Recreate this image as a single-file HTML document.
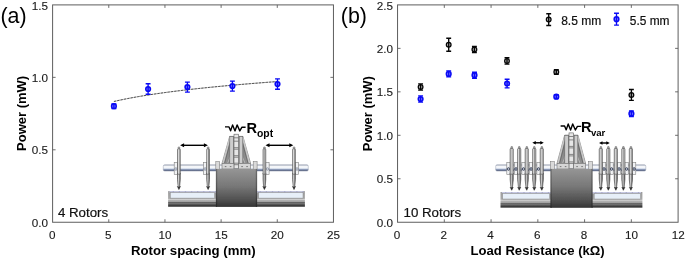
<!DOCTYPE html>
<html lang="en"><head><meta charset="utf-8"><title>Power vs rotor spacing and load resistance</title>
<style>html,body{margin:0;padding:0;background:#fff}body{width:685px;height:259px;overflow:hidden}svg{display:block}</style></head><body>
<svg width="685" height="259" viewBox="0 0 685 259" font-family='"Liberation Sans", Arial, sans-serif'>
<defs>
<linearGradient id="shaft" x1="0" y1="0" x2="0" y2="1"><stop offset="0" stop-color="#98a1b3"/><stop offset="0.15" stop-color="#dde1e9"/><stop offset="0.32" stop-color="#ffffff"/><stop offset="0.55" stop-color="#e6ecf5"/><stop offset="0.7" stop-color="#a9b6d0"/><stop offset="0.85" stop-color="#46547a"/><stop offset="1" stop-color="#8e96a8"/></linearGradient>
<linearGradient id="tray" x1="0" y1="0" x2="0" y2="1"><stop offset="0" stop-color="#9c9c9c"/><stop offset="0.47" stop-color="#a8a8a8"/><stop offset="0.52" stop-color="#dcdcdc"/><stop offset="0.57" stop-color="#b4b4b4"/><stop offset="0.68" stop-color="#a2a2a2"/><stop offset="0.72" stop-color="#5c5c5c"/><stop offset="0.77" stop-color="#7a7a7a"/><stop offset="1" stop-color="#1e1e1e"/></linearGradient>
<linearGradient id="block" x1="0" y1="0" x2="0" y2="1"><stop offset="0" stop-color="#959595"/><stop offset="0.45" stop-color="#787878"/><stop offset="0.8" stop-color="#525252"/><stop offset="1" stop-color="#333"/></linearGradient>
<linearGradient id="blockh" x1="0" y1="0" x2="1" y2="0"><stop offset="0" stop-color="#000" stop-opacity="0.4"/><stop offset="0.045" stop-color="#000" stop-opacity="0"/><stop offset="0.955" stop-color="#000" stop-opacity="0"/><stop offset="1" stop-color="#000" stop-opacity="0.4"/></linearGradient>
<linearGradient id="tower" x1="0" y1="0" x2="1" y2="0"><stop offset="0" stop-color="#9c9c9c"/><stop offset="0.3" stop-color="#858585"/><stop offset="0.5" stop-color="#a8a8a8"/><stop offset="0.7" stop-color="#858585"/><stop offset="1" stop-color="#9c9c9c"/></linearGradient>
<linearGradient id="rodlo" x1="0" y1="0" x2="1" y2="0"><stop offset="0" stop-color="#6a6a6a"/><stop offset="0.35" stop-color="#d6d6d6"/><stop offset="0.55" stop-color="#a6a6a6"/><stop offset="1" stop-color="#4a4a4a"/></linearGradient>
<linearGradient id="rod" x1="0" y1="0" x2="1" y2="0"><stop offset="0" stop-color="#a0a0a0"/><stop offset="0.3" stop-color="#e6e6e6"/><stop offset="0.5" stop-color="#b8b8b8"/><stop offset="0.62" stop-color="#808080"/><stop offset="0.78" stop-color="#cecece"/><stop offset="1" stop-color="#949494"/></linearGradient>
<filter id="soft" x="-5%" y="-5%" width="110%" height="110%"><feGaussianBlur stdDeviation="0.35"/></filter>
</defs>
<rect width="685" height="259" fill="#fff"/>
<rect x="52.6" y="4.9" width="280.85" height="217.35" fill="none" stroke="#5e5e5e" stroke-width="1.0"/>
<text x="52.15" y="238.5" text-anchor="middle" font-size="11.7" fill="#1a1a1a" stroke="#1a1a1a" stroke-width="0.12">0</text>
<text x="108.32" y="238.5" text-anchor="middle" font-size="11.7" fill="#1a1a1a" stroke="#1a1a1a" stroke-width="0.12">5</text>
<text x="164.99" y="238.5" text-anchor="middle" font-size="11.7" fill="#1a1a1a" stroke="#1a1a1a" stroke-width="0.12">10</text>
<text x="221.16" y="238.5" text-anchor="middle" font-size="11.7" fill="#1a1a1a" stroke="#1a1a1a" stroke-width="0.12">15</text>
<text x="277.33" y="238.5" text-anchor="middle" font-size="11.7" fill="#1a1a1a" stroke="#1a1a1a" stroke-width="0.12">20</text>
<text x="333.50" y="238.5" text-anchor="middle" font-size="11.7" fill="#1a1a1a" stroke="#1a1a1a" stroke-width="0.12">25</text>
<text x="48.00" y="226.75" text-anchor="end" font-size="11.7" fill="#1a1a1a" stroke="#1a1a1a" stroke-width="0.12">0.0</text>
<text x="48.00" y="154.30" text-anchor="end" font-size="11.7" fill="#1a1a1a" stroke="#1a1a1a" stroke-width="0.12">0.5</text>
<text x="48.00" y="81.85" text-anchor="end" font-size="11.7" fill="#1a1a1a" stroke="#1a1a1a" stroke-width="0.12">1.0</text>
<text x="48.00" y="9.90" text-anchor="end" font-size="11.7" fill="#1a1a1a" stroke="#1a1a1a" stroke-width="0.12">1.5</text>
<path d="M108.77 222.25v-3 M108.77 4.9v3 M164.94 222.25v-3 M164.94 4.9v3 M221.11 222.25v-3 M221.11 4.9v3 M277.28 222.25v-3 M277.28 4.9v3 M52.6 149.80h3 M333.45 149.80h-3 M52.6 77.35h3 M333.45 77.35h-3 " stroke="#5e5e5e" stroke-width="0.9" fill="none"/>
<text x="0.5" y="22.9" font-size="21.4" fill="#000">(a)</text>
<text transform="translate(26.0 113.4) rotate(-90)" text-anchor="middle" font-size="13" font-weight="bold" fill="#000">Power (mW)</text>
<text x="193.3" y="255.3" text-anchor="middle" font-size="13.2" font-weight="bold" fill="#000">Rotor spacing (mm)</text>
<text x="57.9" y="216.8" font-size="13.3" fill="#111" stroke="#111" stroke-width="0.2">4 Rotors</text>
<path d="M113.90 101.48 L116.63 100.86 L119.35 100.26 L122.08 99.69 L124.81 99.13 L127.53 98.59 L130.26 98.07 L132.99 97.57 L135.71 97.08 L138.44 96.60 L141.17 96.14 L143.89 95.69 L146.62 95.25 L149.35 94.82 L152.07 94.41 L154.80 94.00 L157.53 93.60 L160.25 93.22 L162.98 92.84 L165.71 92.46 L168.43 92.10 L171.16 91.74 L173.89 91.40 L176.61 91.05 L179.34 90.72 L182.07 90.39 L184.79 90.06 L187.52 89.75 L190.25 89.44 L192.97 89.13 L195.70 88.83 L198.43 88.53 L201.15 88.24 L203.88 87.95 L206.61 87.67 L209.33 87.39 L212.06 87.12 L214.79 86.85 L217.51 86.58 L220.24 86.32 L222.97 86.07 L225.69 85.81 L228.42 85.56 L231.15 85.31 L233.87 85.07 L236.60 84.83 L239.33 84.59 L242.05 84.36 L244.78 84.12 L247.51 83.90 L250.23 83.67 L252.96 83.45 L255.69 83.23 L258.41 83.01 L261.14 82.79 L263.87 82.58 L266.59 82.37 L269.32 82.16 L272.05 81.95 L274.77 81.75 L277.50 81.55" fill="none" stroke="#9a9a9a" stroke-width="0.6"/>
<path d="M113.90 101.48 L116.63 100.86 L119.35 100.26 L122.08 99.69 L124.81 99.13 L127.53 98.59 L130.26 98.07 L132.99 97.57 L135.71 97.08 L138.44 96.60 L141.17 96.14 L143.89 95.69 L146.62 95.25 L149.35 94.82 L152.07 94.41 L154.80 94.00 L157.53 93.60 L160.25 93.22 L162.98 92.84 L165.71 92.46 L168.43 92.10 L171.16 91.74 L173.89 91.40 L176.61 91.05 L179.34 90.72 L182.07 90.39 L184.79 90.06 L187.52 89.75 L190.25 89.44 L192.97 89.13 L195.70 88.83 L198.43 88.53 L201.15 88.24 L203.88 87.95 L206.61 87.67 L209.33 87.39 L212.06 87.12 L214.79 86.85 L217.51 86.58 L220.24 86.32 L222.97 86.07 L225.69 85.81 L228.42 85.56 L231.15 85.31 L233.87 85.07 L236.60 84.83 L239.33 84.59 L242.05 84.36 L244.78 84.12 L247.51 83.90 L250.23 83.67 L252.96 83.45 L255.69 83.23 L258.41 83.01 L261.14 82.79 L263.87 82.58 L266.59 82.37 L269.32 82.16 L272.05 81.95 L274.77 81.75 L277.50 81.55" fill="none" stroke="#1c1c1c" stroke-width="0.7" stroke-dasharray="2.3 1.1"/>
<g stroke="#0a0af5" fill="none"><circle cx="113.90" cy="106.20" r="2.35" fill="#7c7cff" stroke-width="1.5"/><path stroke-width="1.35" d="M113.90 103.80V108.60M111.45 103.80h4.9M111.45 108.60h4.9"/></g>
<g stroke="#0a0af5" fill="none"><circle cx="148.10" cy="89.00" r="2.35" fill="#7c7cff" stroke-width="1.5"/><path stroke-width="1.35" d="M148.10 83.70V94.20M145.65 83.70h4.9M145.65 94.20h4.9"/></g>
<g stroke="#0a0af5" fill="none"><circle cx="187.40" cy="87.00" r="2.35" fill="#7c7cff" stroke-width="1.5"/><path stroke-width="1.35" d="M187.40 82.10V92.10M184.95 82.10h4.9M184.95 92.10h4.9"/></g>
<g stroke="#0a0af5" fill="none"><circle cx="232.40" cy="86.00" r="2.35" fill="#7c7cff" stroke-width="1.5"/><path stroke-width="1.35" d="M232.40 81.10V91.10M229.95 81.10h4.9M229.95 91.10h4.9"/></g>
<g stroke="#0a0af5" fill="none"><circle cx="277.50" cy="84.10" r="2.35" fill="#7c7cff" stroke-width="1.5"/><path stroke-width="1.35" d="M277.50 78.90V89.20M275.05 78.90h4.9M275.05 89.20h4.9"/></g>
<g filter="url(#soft)">
<rect x="163.3" y="164.8" width="145.0" height="6.3" rx="1.4" fill="url(#shaft)" stroke="#8f98aa" stroke-width="0.45"/>
<rect x="168.1" y="191.10" width="48.400000000000006" height="15.6" fill="url(#tray)"/>
<rect x="169.5" y="191.10" width="47.0" height="1.5" fill="#c6c8e2"/>
<path d="M172.70 191.90h1.2M178.80 191.90h1.2M184.90 191.90h1.2M191.00 191.90h1.2M197.10 191.90h1.2M203.20 191.90h1.2M209.30 191.90h1.2M215.40 191.90h1.2" stroke="#9496ba" stroke-width="0.8"/>
<rect x="170.29999999999998" y="192.70" width="44.300000000000004" height="5.4" fill="#e7eff8" stroke="#8e8e8e" stroke-width="0.5"/>
<rect x="256.5" y="191.10" width="48.39999999999998" height="15.6" fill="url(#tray)"/>
<rect x="256.5" y="191.10" width="47.0" height="1.5" fill="#c6c8e2"/>
<path d="M259.70 191.90h1.2M265.80 191.90h1.2M271.90 191.90h1.2M278.00 191.90h1.2M284.10 191.90h1.2M290.20 191.90h1.2M296.30 191.90h1.2M302.40 191.90h1.2" stroke="#9496ba" stroke-width="0.8"/>
<rect x="258.7" y="192.70" width="44.299999999999976" height="5.4" fill="#e7eff8" stroke="#8e8e8e" stroke-width="0.5"/>
<path d="M229.70000000000002 136.39999999999998L242.9 136.39999999999998L250.60000000000002 163.4L222.0 163.4Z" fill="url(#tower)" stroke="#6a6a6a" stroke-width="0.6"/>
<path d="M230.0 137.2L223.10000000000002 163.1M242.60000000000002 137.2L249.5 163.1" stroke="#c6c6c6" stroke-width="1.7" fill="none"/>
<path d="M231.10000000000002 139.2L224.70000000000002 162.9M241.5 139.2L247.9 162.9" stroke="#5e5e5e" stroke-width="0.7" fill="none"/>
<path d="M233.10000000000002 150.2L227.70000000000002 162.9M239.5 150.2L244.9 162.9" stroke="#bdbdbd" stroke-width="0.9" fill="none"/>
<rect x="229.80" y="136.6" width="3.6" height="26.80" fill="#cdcdcd" stroke="#666" stroke-width="0.55"/>
<rect x="239.20" y="136.6" width="3.6" height="26.80" fill="#cdcdcd" stroke="#666" stroke-width="0.55"/>
<rect x="234.0" y="134.2" width="4.6" height="34.20" fill="#e6e6e6" stroke="#616161" stroke-width="0.6"/>
<path d="M234.0 137.8h4.6M234.0 141.2h4.6M234.0 147.7h4.6M234.0 149.2h4.6M234.0 155.7h4.6M234.0 157.2h4.6M234.0 163.2h4.6M234.0 164.7h4.6" stroke="#6c6c6c" stroke-width="0.8"/>
<rect x="222.0" y="163.4" width="11.9" height="5.6" fill="#d6d6d6" stroke="#6a6a6a" stroke-width="0.55"/>
<rect x="238.70000000000002" y="163.4" width="11.9" height="5.6" fill="#d6d6d6" stroke="#6a6a6a" stroke-width="0.55"/>
<path d="M224.8 166.6h1.6M229.8 166.6h1.6M241.3 166.6h1.6M246.3 166.6h1.6" stroke="#777" stroke-width="1"/>
<rect x="215.80" y="161.6" width="3.9" height="7.8" fill="#dadada" stroke="#7a7a7a" stroke-width="0.55"/>
<rect x="253.20" y="161.6" width="3.9" height="7.8" fill="#dadada" stroke="#7a7a7a" stroke-width="0.55"/>
<rect x="215.9" y="168.9" width="41.20000000000002" height="38.00" fill="url(#block)"/>
<rect x="215.9" y="168.9" width="41.20000000000002" height="38.00" fill="url(#blockh)"/>
<rect x="174.20" y="162.3" width="3.4" height="12.2" fill="#f1f2f4" stroke="#808080" stroke-width="0.6"/>
<circle cx="175.90" cy="169.0" r="1.3" fill="#d5d9e2" stroke="#6b7387" stroke-width="0.55"/>
<rect x="203.40" y="162.3" width="3.4" height="12.2" fill="#f1f2f4" stroke="#808080" stroke-width="0.6"/>
<circle cx="205.10" cy="169.0" r="1.3" fill="#d5d9e2" stroke="#6b7387" stroke-width="0.55"/>
<rect x="265.70" y="162.3" width="3.4" height="12.2" fill="#f1f2f4" stroke="#808080" stroke-width="0.6"/>
<circle cx="267.40" cy="169.0" r="1.3" fill="#d5d9e2" stroke="#6b7387" stroke-width="0.55"/>
<rect x="295.30" y="162.3" width="3.4" height="12.2" fill="#f1f2f4" stroke="#808080" stroke-width="0.6"/>
<circle cx="297.00" cy="169.0" r="1.3" fill="#d5d9e2" stroke="#6b7387" stroke-width="0.55"/>
<path d="M177.50 173V179.5L178.05 185.9L177.45 186.5L178.90 189.6L180.35 186.5L179.75 185.9L180.30 179.5V173Z" fill="url(#rodlo)" stroke="#474747" stroke-width="0.6"/>
<path d="M177.45 186.5L178.90 189.6L180.35 186.5Z" fill="#2c2c2c"/>
<rect x="178.10" y="146.9" width="1.7" height="2.6" rx="0.5" fill="#a9a9a9" stroke="#5e5e5e" stroke-width="0.5"/>
<path d="M177.50 149.70000000000002Q177.50 148.8 178.40 148.8H179.40Q180.30 148.8 180.30 149.70000000000002V174.2H177.50Z" fill="url(#rod)" stroke="#5a5a5a" stroke-width="0.65"/>
<path d="M206.70 173V179.5L207.25 185.9L206.65 186.5L208.10 189.6L209.55 186.5L208.95 185.9L209.50 179.5V173Z" fill="url(#rodlo)" stroke="#474747" stroke-width="0.6"/>
<path d="M206.65 186.5L208.10 189.6L209.55 186.5Z" fill="#2c2c2c"/>
<rect x="207.30" y="146.9" width="1.7" height="2.6" rx="0.5" fill="#a9a9a9" stroke="#5e5e5e" stroke-width="0.5"/>
<path d="M206.70 149.70000000000002Q206.70 148.8 207.60 148.8H208.60Q209.50 148.8 209.50 149.70000000000002V174.2H206.70Z" fill="url(#rod)" stroke="#5a5a5a" stroke-width="0.65"/>
<path d="M263.00 173V179.5L263.55 185.9L262.95 186.5L264.40 189.6L265.85 186.5L265.25 185.9L265.80 179.5V173Z" fill="url(#rodlo)" stroke="#474747" stroke-width="0.6"/>
<path d="M262.95 186.5L264.40 189.6L265.85 186.5Z" fill="#2c2c2c"/>
<rect x="263.60" y="146.9" width="1.7" height="2.6" rx="0.5" fill="#a9a9a9" stroke="#5e5e5e" stroke-width="0.5"/>
<path d="M263.00 149.70000000000002Q263.00 148.8 263.90 148.8H264.90Q265.80 148.8 265.80 149.70000000000002V174.2H263.00Z" fill="url(#rod)" stroke="#5a5a5a" stroke-width="0.65"/>
<path d="M292.60 173V179.5L293.15 185.9L292.55 186.5L294.00 189.6L295.45 186.5L294.85 185.9L295.40 179.5V173Z" fill="url(#rodlo)" stroke="#474747" stroke-width="0.6"/>
<path d="M292.55 186.5L294.00 189.6L295.45 186.5Z" fill="#2c2c2c"/>
<rect x="293.20" y="146.9" width="1.7" height="2.6" rx="0.5" fill="#a9a9a9" stroke="#5e5e5e" stroke-width="0.5"/>
<path d="M292.60 149.70000000000002Q292.60 148.8 293.50 148.8H294.50Q295.40 148.8 295.40 149.70000000000002V174.2H292.60Z" fill="url(#rod)" stroke="#5a5a5a" stroke-width="0.65"/>
</g>
<path d="M182.1 145.3H205.9" stroke="#000" stroke-width="1.4"/>
<path d="M180.1 145.3l4.0 -2.0v4.0zM207.9 145.3l-4.0 -2.0v4.0z" fill="#000"/>
<path d="M267.5 145.3H291.3" stroke="#000" stroke-width="1.4"/>
<path d="M265.5 145.3l4.0 -2.0v4.0zM293.3 145.3l-4.0 -2.0v4.0z" fill="#000"/>
<path d="M225.00 126.90 L229.00 126.90 L230.60 130.80 L232.60 124.90 L235.00 130.90 L237.10 124.90 L239.80 130.90 L241.80 127.30 L245.60 127.30" stroke="#000" stroke-width="1.4" fill="none" stroke-linejoin="round"/>
<text x="246.4" y="132.6" font-size="14.6" font-weight="bold" fill="#000">R</text>
<text x="257.0" y="136.6" font-size="10.4" font-weight="bold" fill="#000">opt</text>
<rect x="397.55" y="4.9" width="280.55" height="217.35" fill="none" stroke="#5e5e5e" stroke-width="1.0"/>
<text x="397.10" y="238.5" text-anchor="middle" font-size="11.7" fill="#1a1a1a" stroke="#1a1a1a" stroke-width="0.12">0</text>
<text x="443.86" y="238.5" text-anchor="middle" font-size="11.7" fill="#1a1a1a" stroke="#1a1a1a" stroke-width="0.12">2</text>
<text x="490.62" y="238.5" text-anchor="middle" font-size="11.7" fill="#1a1a1a" stroke="#1a1a1a" stroke-width="0.12">4</text>
<text x="537.38" y="238.5" text-anchor="middle" font-size="11.7" fill="#1a1a1a" stroke="#1a1a1a" stroke-width="0.12">6</text>
<text x="584.13" y="238.5" text-anchor="middle" font-size="11.7" fill="#1a1a1a" stroke="#1a1a1a" stroke-width="0.12">8</text>
<text x="631.39" y="238.5" text-anchor="middle" font-size="11.7" fill="#1a1a1a" stroke="#1a1a1a" stroke-width="0.12">10</text>
<text x="678.15" y="238.5" text-anchor="middle" font-size="11.7" fill="#1a1a1a" stroke="#1a1a1a" stroke-width="0.12">12</text>
<text x="392.95" y="226.75" text-anchor="end" font-size="11.7" fill="#1a1a1a" stroke="#1a1a1a" stroke-width="0.12">0.0</text>
<text x="392.95" y="183.28" text-anchor="end" font-size="11.7" fill="#1a1a1a" stroke="#1a1a1a" stroke-width="0.12">0.5</text>
<text x="392.95" y="139.81" text-anchor="end" font-size="11.7" fill="#1a1a1a" stroke="#1a1a1a" stroke-width="0.12">1.0</text>
<text x="392.95" y="96.34" text-anchor="end" font-size="11.7" fill="#1a1a1a" stroke="#1a1a1a" stroke-width="0.12">1.5</text>
<text x="392.95" y="52.87" text-anchor="end" font-size="11.7" fill="#1a1a1a" stroke="#1a1a1a" stroke-width="0.12">2.0</text>
<text x="392.95" y="9.90" text-anchor="end" font-size="11.7" fill="#1a1a1a" stroke="#1a1a1a" stroke-width="0.12">2.5</text>
<path d="M444.31 222.25v-3 M444.31 4.9v3 M491.07 222.25v-3 M491.07 4.9v3 M537.83 222.25v-3 M537.83 4.9v3 M584.58 222.25v-3 M584.58 4.9v3 M631.34 222.25v-3 M631.34 4.9v3 M397.55 178.78h3 M678.1 178.78h-3 M397.55 135.31h3 M678.1 135.31h-3 M397.55 91.84h3 M678.1 91.84h-3 M397.55 48.37h3 M678.1 48.37h-3 " stroke="#5e5e5e" stroke-width="0.9" fill="none"/>
<text x="340.8" y="22.9" font-size="21.4" fill="#000">(b)</text>
<text transform="translate(371.5 113.6) rotate(-90)" text-anchor="middle" font-size="13" font-weight="bold" fill="#000">Power (mW)</text>
<text x="537.6" y="255.1" text-anchor="middle" font-size="13.1" font-weight="bold" fill="#000">Load Resistance (kΩ)</text>
<text x="403.5" y="216.8" font-size="13.3" fill="#111" stroke="#111" stroke-width="0.2">10 Rotors</text>
<g stroke="#050505" fill="none"><circle cx="420.60" cy="87.00" r="2.35" fill="#b4b4b4" stroke-width="1.25"/><path stroke-width="1.35" d="M420.60 83.90V90.10M418.15 83.90h4.9M418.15 90.10h4.9"/></g>
<g stroke="#050505" fill="none"><circle cx="448.70" cy="44.70" r="2.35" fill="#b4b4b4" stroke-width="1.25"/><path stroke-width="1.35" d="M448.70 38.20V51.20M446.25 38.20h4.9M446.25 51.20h4.9"/></g>
<g stroke="#050505" fill="none"><circle cx="474.40" cy="49.50" r="2.35" fill="#b4b4b4" stroke-width="1.25"/><path stroke-width="1.35" d="M474.40 46.50V52.50M471.95 46.50h4.9M471.95 52.50h4.9"/></g>
<g stroke="#050505" fill="none"><circle cx="507.00" cy="60.90" r="2.35" fill="#b4b4b4" stroke-width="1.25"/><path stroke-width="1.35" d="M507.00 57.70V64.10M504.55 57.70h4.9M504.55 64.10h4.9"/></g>
<g stroke="#050505" fill="none"><circle cx="556.30" cy="72.00" r="2.35" fill="#b4b4b4" stroke-width="1.25"/><path stroke-width="1.35" d="M556.30 69.60V74.40M553.85 69.60h4.9M553.85 74.40h4.9"/></g>
<g stroke="#050505" fill="none"><circle cx="631.40" cy="94.90" r="2.35" fill="#b4b4b4" stroke-width="1.25"/><path stroke-width="1.35" d="M631.40 89.50V100.30M628.95 89.50h4.9M628.95 100.30h4.9"/></g>
<g stroke="#0a0af5" fill="none"><circle cx="420.60" cy="99.00" r="2.35" fill="#7c7cff" stroke-width="1.5"/><path stroke-width="1.35" d="M420.60 95.90V102.10M418.15 95.90h4.9M418.15 102.10h4.9"/></g>
<g stroke="#0a0af5" fill="none"><circle cx="448.70" cy="73.90" r="2.35" fill="#7c7cff" stroke-width="1.5"/><path stroke-width="1.35" d="M448.70 70.90V76.90M446.25 70.90h4.9M446.25 76.90h4.9"/></g>
<g stroke="#0a0af5" fill="none"><circle cx="474.50" cy="75.20" r="2.35" fill="#7c7cff" stroke-width="1.5"/><path stroke-width="1.35" d="M474.50 72.20V78.20M472.05 72.20h4.9M472.05 78.20h4.9"/></g>
<g stroke="#0a0af5" fill="none"><circle cx="507.10" cy="83.50" r="2.35" fill="#7c7cff" stroke-width="1.5"/><path stroke-width="1.35" d="M507.10 79.20V87.80M504.65 79.20h4.9M504.65 87.80h4.9"/></g>
<g stroke="#0a0af5" fill="none"><circle cx="556.30" cy="96.70" r="2.35" fill="#7c7cff" stroke-width="1.5"/><path stroke-width="1.35" d="M556.30 94.90V98.50M553.85 94.90h4.9M553.85 98.50h4.9"/></g>
<g stroke="#0a0af5" fill="none"><circle cx="631.40" cy="113.70" r="2.35" fill="#7c7cff" stroke-width="1.5"/><path stroke-width="1.35" d="M631.40 110.80V116.60M628.95 110.80h4.9M628.95 116.60h4.9"/></g>
<g stroke="#050505" fill="none"><circle cx="548.70" cy="19.40" r="2.35" fill="#b4b4b4" stroke-width="1.25"/><path stroke-width="1.35" d="M548.70 13.70V25.50M546.25 13.70h4.9M546.25 25.50h4.9"/></g>
<text x="561.2" y="24.6" font-size="12" fill="#111" stroke="#111" stroke-width="0.2">8.5 mm</text>
<g stroke="#0a0af5" fill="none"><circle cx="616.50" cy="19.20" r="2.35" fill="#7c7cff" stroke-width="1.5"/><path stroke-width="1.35" d="M616.50 13.20V25.10M614.05 13.20h4.9M614.05 25.10h4.9"/></g>
<text x="629.8" y="24.6" font-size="11.9" fill="#111" stroke="#111" stroke-width="0.2">5.5 mm</text>
<g filter="url(#soft)">
<rect x="495.7" y="164.8" width="150.09999999999997" height="6.3" rx="1.4" fill="url(#shaft)" stroke="#8f98aa" stroke-width="0.45"/>
<rect x="500.5" y="192.00" width="51.0" height="15.6" fill="url(#tray)"/>
<rect x="501.9" y="192.00" width="49.60000000000002" height="1.5" fill="#c6c8e2"/>
<path d="M505.10 192.80h1.2M511.20 192.80h1.2M517.30 192.80h1.2M523.40 192.80h1.2M529.50 192.80h1.2M535.60 192.80h1.2M541.70 192.80h1.2M547.80 192.80h1.2" stroke="#9496ba" stroke-width="0.8"/>
<rect x="502.7" y="193.60" width="46.9" height="5.4" fill="#e7eff8" stroke="#8e8e8e" stroke-width="0.5"/>
<rect x="592" y="192.00" width="50.39999999999998" height="15.6" fill="url(#tray)"/>
<rect x="592" y="192.00" width="49.0" height="1.5" fill="#c6c8e2"/>
<path d="M595.20 192.80h1.2M601.30 192.80h1.2M607.40 192.80h1.2M613.50 192.80h1.2M619.60 192.80h1.2M625.70 192.80h1.2M631.80 192.80h1.2M637.90 192.80h1.2" stroke="#9496ba" stroke-width="0.8"/>
<rect x="594.2" y="193.60" width="46.299999999999976" height="5.4" fill="#e7eff8" stroke="#8e8e8e" stroke-width="0.5"/>
<path d="M564.6999999999999 135.1L577.9 135.1L585.5999999999999 163.4L557.0 163.4Z" fill="url(#tower)" stroke="#6a6a6a" stroke-width="0.6"/>
<path d="M565.0 135.9L558.0999999999999 163.1M577.5999999999999 135.9L584.5 163.1" stroke="#c6c6c6" stroke-width="1.7" fill="none"/>
<path d="M566.0999999999999 137.9L559.6999999999999 162.9M576.5 137.9L582.9 162.9" stroke="#5e5e5e" stroke-width="0.7" fill="none"/>
<path d="M568.0999999999999 148.9L562.6999999999999 162.9M574.5 148.9L579.9 162.9" stroke="#bdbdbd" stroke-width="0.9" fill="none"/>
<rect x="564.80" y="135.3" width="3.6" height="28.10" fill="#cdcdcd" stroke="#666" stroke-width="0.55"/>
<rect x="574.20" y="135.3" width="3.6" height="28.10" fill="#cdcdcd" stroke="#666" stroke-width="0.55"/>
<rect x="569.0" y="132.9" width="4.6" height="35.50" fill="#e6e6e6" stroke="#616161" stroke-width="0.6"/>
<path d="M569.0 136.5h4.6M569.0 139.9h4.6M569.0 146.4h4.6M569.0 147.9h4.6M569.0 154.4h4.6M569.0 155.9h4.6M569.0 161.9h4.6M569.0 163.4h4.6" stroke="#6c6c6c" stroke-width="0.8"/>
<rect x="557.0" y="163.4" width="11.9" height="5.6" fill="#d6d6d6" stroke="#6a6a6a" stroke-width="0.55"/>
<rect x="573.6999999999999" y="163.4" width="11.9" height="5.6" fill="#d6d6d6" stroke="#6a6a6a" stroke-width="0.55"/>
<path d="M559.8 166.6h1.6M564.8 166.6h1.6M576.3 166.6h1.6M581.3 166.6h1.6" stroke="#777" stroke-width="1"/>
<rect x="550.40" y="161.6" width="3.9" height="7.8" fill="#dadada" stroke="#7a7a7a" stroke-width="0.55"/>
<rect x="588.60" y="161.6" width="3.9" height="7.8" fill="#dadada" stroke="#7a7a7a" stroke-width="0.55"/>
<rect x="550.5" y="168.9" width="42.0" height="38.90" fill="url(#block)"/>
<rect x="550.5" y="168.9" width="42.0" height="38.90" fill="url(#blockh)"/>
<rect x="506.80" y="162.3" width="3.4" height="12.2" fill="#f1f2f4" stroke="#808080" stroke-width="0.6"/>
<circle cx="508.50" cy="169.0" r="1.3" fill="#c3c9d6" stroke="#2e3750" stroke-width="0.85"/>
<rect x="514.32" y="162.3" width="3.4" height="12.2" fill="#f1f2f4" stroke="#808080" stroke-width="0.6"/>
<circle cx="516.02" cy="169.0" r="1.3" fill="#c3c9d6" stroke="#2e3750" stroke-width="0.85"/>
<rect x="521.84" y="162.3" width="3.4" height="12.2" fill="#f1f2f4" stroke="#808080" stroke-width="0.6"/>
<circle cx="523.54" cy="169.0" r="1.3" fill="#c3c9d6" stroke="#2e3750" stroke-width="0.85"/>
<rect x="529.36" y="162.3" width="3.4" height="12.2" fill="#f1f2f4" stroke="#808080" stroke-width="0.6"/>
<circle cx="531.06" cy="169.0" r="1.3" fill="#c3c9d6" stroke="#2e3750" stroke-width="0.85"/>
<rect x="536.88" y="162.3" width="3.4" height="12.2" fill="#f1f2f4" stroke="#808080" stroke-width="0.6"/>
<circle cx="538.58" cy="169.0" r="1.3" fill="#c3c9d6" stroke="#2e3750" stroke-width="0.85"/>
<rect x="602.30" y="162.3" width="3.4" height="12.2" fill="#f1f2f4" stroke="#808080" stroke-width="0.6"/>
<circle cx="604.00" cy="169.0" r="1.3" fill="#c3c9d6" stroke="#2e3750" stroke-width="0.85"/>
<rect x="609.82" y="162.3" width="3.4" height="12.2" fill="#f1f2f4" stroke="#808080" stroke-width="0.6"/>
<circle cx="611.52" cy="169.0" r="1.3" fill="#c3c9d6" stroke="#2e3750" stroke-width="0.85"/>
<rect x="617.34" y="162.3" width="3.4" height="12.2" fill="#f1f2f4" stroke="#808080" stroke-width="0.6"/>
<circle cx="619.04" cy="169.0" r="1.3" fill="#c3c9d6" stroke="#2e3750" stroke-width="0.85"/>
<rect x="624.86" y="162.3" width="3.4" height="12.2" fill="#f1f2f4" stroke="#808080" stroke-width="0.6"/>
<circle cx="626.56" cy="169.0" r="1.3" fill="#c3c9d6" stroke="#2e3750" stroke-width="0.85"/>
<rect x="632.38" y="162.3" width="3.4" height="12.2" fill="#f1f2f4" stroke="#808080" stroke-width="0.6"/>
<circle cx="634.08" cy="169.0" r="1.3" fill="#c3c9d6" stroke="#2e3750" stroke-width="0.85"/>
<path d="M510.10 173V179.5L510.85 186.60000000000002L510.25 187.20000000000002L511.70 190.3L513.15 187.20000000000002L512.55 186.60000000000002L513.30 179.5V173Z" fill="url(#rodlo)" stroke="#474747" stroke-width="0.6"/>
<path d="M510.25 187.20000000000002L511.70 190.3L513.15 187.20000000000002Z" fill="#2c2c2c"/>
<rect x="510.90" y="146.5" width="1.7" height="2.6" rx="0.5" fill="#a9a9a9" stroke="#5e5e5e" stroke-width="0.5"/>
<path d="M510.10 149.3Q510.10 148.4 511.00 148.4H512.40Q513.30 148.4 513.30 149.3V174.2H510.10Z" fill="url(#rod)" stroke="#5a5a5a" stroke-width="0.65"/>
<path d="M517.62 173V179.5L518.37 186.60000000000002L517.77 187.20000000000002L519.22 190.3L520.67 187.20000000000002L520.07 186.60000000000002L520.82 179.5V173Z" fill="url(#rodlo)" stroke="#474747" stroke-width="0.6"/>
<path d="M517.77 187.20000000000002L519.22 190.3L520.67 187.20000000000002Z" fill="#2c2c2c"/>
<rect x="518.42" y="146.5" width="1.7" height="2.6" rx="0.5" fill="#a9a9a9" stroke="#5e5e5e" stroke-width="0.5"/>
<path d="M517.62 149.3Q517.62 148.4 518.52 148.4H519.92Q520.82 148.4 520.82 149.3V174.2H517.62Z" fill="url(#rod)" stroke="#5a5a5a" stroke-width="0.65"/>
<path d="M525.14 173V179.5L525.89 186.60000000000002L525.29 187.20000000000002L526.74 190.3L528.19 187.20000000000002L527.59 186.60000000000002L528.34 179.5V173Z" fill="url(#rodlo)" stroke="#474747" stroke-width="0.6"/>
<path d="M525.29 187.20000000000002L526.74 190.3L528.19 187.20000000000002Z" fill="#2c2c2c"/>
<rect x="525.94" y="146.5" width="1.7" height="2.6" rx="0.5" fill="#a9a9a9" stroke="#5e5e5e" stroke-width="0.5"/>
<path d="M525.14 149.3Q525.14 148.4 526.04 148.4H527.44Q528.34 148.4 528.34 149.3V174.2H525.14Z" fill="url(#rod)" stroke="#5a5a5a" stroke-width="0.65"/>
<path d="M532.66 173V179.5L533.41 186.60000000000002L532.81 187.20000000000002L534.26 190.3L535.71 187.20000000000002L535.11 186.60000000000002L535.86 179.5V173Z" fill="url(#rodlo)" stroke="#474747" stroke-width="0.6"/>
<path d="M532.81 187.20000000000002L534.26 190.3L535.71 187.20000000000002Z" fill="#2c2c2c"/>
<rect x="533.46" y="146.5" width="1.7" height="2.6" rx="0.5" fill="#a9a9a9" stroke="#5e5e5e" stroke-width="0.5"/>
<path d="M532.66 149.3Q532.66 148.4 533.56 148.4H534.96Q535.86 148.4 535.86 149.3V174.2H532.66Z" fill="url(#rod)" stroke="#5a5a5a" stroke-width="0.65"/>
<path d="M540.18 173V179.5L540.93 186.60000000000002L540.33 187.20000000000002L541.78 190.3L543.23 187.20000000000002L542.63 186.60000000000002L543.38 179.5V173Z" fill="url(#rodlo)" stroke="#474747" stroke-width="0.6"/>
<path d="M540.33 187.20000000000002L541.78 190.3L543.23 187.20000000000002Z" fill="#2c2c2c"/>
<rect x="540.98" y="146.5" width="1.7" height="2.6" rx="0.5" fill="#a9a9a9" stroke="#5e5e5e" stroke-width="0.5"/>
<path d="M540.18 149.3Q540.18 148.4 541.08 148.4H542.48Q543.38 148.4 543.38 149.3V174.2H540.18Z" fill="url(#rod)" stroke="#5a5a5a" stroke-width="0.65"/>
<path d="M599.20 173V179.5L599.95 186.60000000000002L599.35 187.20000000000002L600.80 190.3L602.25 187.20000000000002L601.65 186.60000000000002L602.40 179.5V173Z" fill="url(#rodlo)" stroke="#474747" stroke-width="0.6"/>
<path d="M599.35 187.20000000000002L600.80 190.3L602.25 187.20000000000002Z" fill="#2c2c2c"/>
<rect x="600.00" y="146.5" width="1.7" height="2.6" rx="0.5" fill="#a9a9a9" stroke="#5e5e5e" stroke-width="0.5"/>
<path d="M599.20 149.3Q599.20 148.4 600.10 148.4H601.50Q602.40 148.4 602.40 149.3V174.2H599.20Z" fill="url(#rod)" stroke="#5a5a5a" stroke-width="0.65"/>
<path d="M606.72 173V179.5L607.47 186.60000000000002L606.87 187.20000000000002L608.32 190.3L609.77 187.20000000000002L609.17 186.60000000000002L609.92 179.5V173Z" fill="url(#rodlo)" stroke="#474747" stroke-width="0.6"/>
<path d="M606.87 187.20000000000002L608.32 190.3L609.77 187.20000000000002Z" fill="#2c2c2c"/>
<rect x="607.52" y="146.5" width="1.7" height="2.6" rx="0.5" fill="#a9a9a9" stroke="#5e5e5e" stroke-width="0.5"/>
<path d="M606.72 149.3Q606.72 148.4 607.62 148.4H609.02Q609.92 148.4 609.92 149.3V174.2H606.72Z" fill="url(#rod)" stroke="#5a5a5a" stroke-width="0.65"/>
<path d="M614.24 173V179.5L614.99 186.60000000000002L614.39 187.20000000000002L615.84 190.3L617.29 187.20000000000002L616.69 186.60000000000002L617.44 179.5V173Z" fill="url(#rodlo)" stroke="#474747" stroke-width="0.6"/>
<path d="M614.39 187.20000000000002L615.84 190.3L617.29 187.20000000000002Z" fill="#2c2c2c"/>
<rect x="615.04" y="146.5" width="1.7" height="2.6" rx="0.5" fill="#a9a9a9" stroke="#5e5e5e" stroke-width="0.5"/>
<path d="M614.24 149.3Q614.24 148.4 615.14 148.4H616.54Q617.44 148.4 617.44 149.3V174.2H614.24Z" fill="url(#rod)" stroke="#5a5a5a" stroke-width="0.65"/>
<path d="M621.76 173V179.5L622.51 186.60000000000002L621.91 187.20000000000002L623.36 190.3L624.81 187.20000000000002L624.21 186.60000000000002L624.96 179.5V173Z" fill="url(#rodlo)" stroke="#474747" stroke-width="0.6"/>
<path d="M621.91 187.20000000000002L623.36 190.3L624.81 187.20000000000002Z" fill="#2c2c2c"/>
<rect x="622.56" y="146.5" width="1.7" height="2.6" rx="0.5" fill="#a9a9a9" stroke="#5e5e5e" stroke-width="0.5"/>
<path d="M621.76 149.3Q621.76 148.4 622.66 148.4H624.06Q624.96 148.4 624.96 149.3V174.2H621.76Z" fill="url(#rod)" stroke="#5a5a5a" stroke-width="0.65"/>
<path d="M629.28 173V179.5L630.03 186.60000000000002L629.43 187.20000000000002L630.88 190.3L632.33 187.20000000000002L631.73 186.60000000000002L632.48 179.5V173Z" fill="url(#rodlo)" stroke="#474747" stroke-width="0.6"/>
<path d="M629.43 187.20000000000002L630.88 190.3L632.33 187.20000000000002Z" fill="#2c2c2c"/>
<rect x="630.08" y="146.5" width="1.7" height="2.6" rx="0.5" fill="#a9a9a9" stroke="#5e5e5e" stroke-width="0.5"/>
<path d="M629.28 149.3Q629.28 148.4 630.18 148.4H631.58Q632.48 148.4 632.48 149.3V174.2H629.28Z" fill="url(#rod)" stroke="#5a5a5a" stroke-width="0.65"/>
</g>
<path d="M534.3 142.8H541.8" stroke="#000" stroke-width="1.4"/>
<path d="M532.3 142.8l3.5 -1.7v3.4zM543.8 142.8l-3.5 -1.7v3.4z" fill="#000"/>
<path d="M601.0 143.0H607.8" stroke="#000" stroke-width="1.4"/>
<path d="M599.0 143.0l3.5 -1.7v3.4zM609.8 143.0l-3.5 -1.7v3.4z" fill="#000"/>
<path d="M560.60 126.00 L564.60 126.00 L566.20 129.90 L568.20 124.00 L570.60 130.00 L572.70 124.00 L575.40 130.00 L577.40 126.40 L581.20 126.40" stroke="#000" stroke-width="1.4" fill="none" stroke-linejoin="round"/>
<text x="581.0" y="132.1" font-size="14.6" font-weight="bold" fill="#000">R</text>
<text x="590.9" y="135.6" font-size="9.6" font-weight="bold" fill="#000">var</text>
</svg></body></html>
